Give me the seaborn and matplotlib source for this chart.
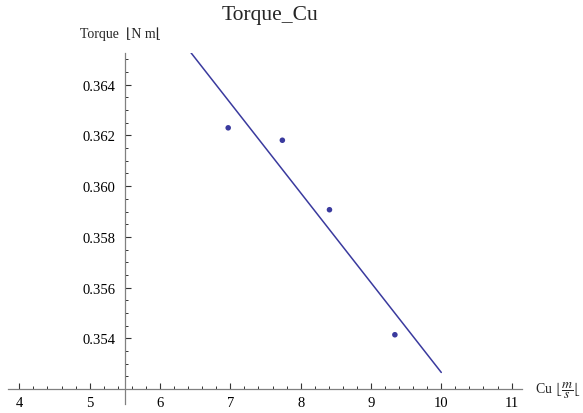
import matplotlib
matplotlib.use("Agg")
import matplotlib.pyplot as plt
import seaborn as sns
import numpy as np
import pandas as pd
from matplotlib.ticker import FixedLocator, FormatStrFormatter

# ---- data ----
cu = [6.97, 7.74, 8.41, 9.34]
torque = [0.36230, 0.36181, 0.35907, 0.35414]
x_ticks = [4, 5, 6, 7, 8, 9, 10, 11]
y_ticks = [0.354, 0.356, 0.358, 0.360, 0.362, 0.364]
fit_range = [4, 10]

title = "Torque_Cu"
y_label = "Torque  \u230aN m\u230a"
x_label = r"Cu $\lfloor\dfrac{m}{s}\lfloor$"

df = pd.DataFrame({"Cu": cu, "Torque": torque})

sns.set_style("white")
plt.rcParams["font.family"] = ["Liberation Serif", "DejaVu Serif"]
plt.rcParams["mathtext.fontset"] = "stix"

color = "#3a3a9e"
axis_col = "#808080"

fig = plt.figure(figsize=(5.83, 4.14), dpi=100)
ax = fig.add_axes([0.01372, 0.02174, 0.8811, 0.8478])

# fitted line over the fit range (regression of the points)
ax.set_xlim(*fit_range)
sns.regplot(data=df, x="Cu", y="Torque", ax=ax, scatter=False, ci=None,
            truncate=False, color=color, line_kws={"linewidth": 1.1})
sns.scatterplot(data=df, x="Cu", y="Torque", ax=ax, color=color, s=16,
                edgecolor="none", zorder=3)

ax.set_xlim(3.839, 11.143)
ax.set_ylim(0.351409, 0.36525)

for s in ["top", "right"]:
    ax.spines[s].set_visible(False)
ax.spines["left"].set_position(("data", 5.5))
ax.spines["bottom"].set_position(("data", 0.352))
for s in ["left", "bottom"]:
    ax.spines[s].set_color(axis_col)
    ax.spines[s].set_linewidth(0.9)

ax.xaxis.set_major_locator(FixedLocator(x_ticks))
ax.xaxis.set_minor_locator(FixedLocator(
    [round(4 + 0.2 * i, 1) for i in range(36) if (i % 5) != 0]))
ax.yaxis.set_major_locator(FixedLocator(y_ticks))
ax.yaxis.set_minor_locator(FixedLocator(
    [round(0.3525 + 0.0005 * i, 4) for i in range(26)
     if round(0.3525 + 0.0005 * i, 4) not in [round(v, 4) for v in y_ticks]]))
ax.yaxis.set_major_formatter(FormatStrFormatter("%.3f"))

ax.tick_params(axis="both", which="major", direction="in", length=4, width=0.8,
               color="#333333", labelsize=10.5, labelcolor="black")
ax.tick_params(axis="both", which="minor", direction="in", length=2.2, width=0.7,
               color="#333333")
ax.tick_params(axis="x", which="both", bottom=True, top=False, pad=5)
ax.tick_params(axis="y", which="both", left=True, right=False, pad=7)

ax.set_xlabel("")
ax.set_ylabel("")

fig.text(222 / 583, 1 - 20 / 414, title, fontsize=15.5, ha="left", va="baseline")
fig.text(80 / 583, 1 - 38 / 414, y_label, fontsize=10, ha="left", va="baseline")
fig.text(535 / 583, 1 - 391 / 414, x_label, fontsize=10, ha="left", va="center")

fig.savefig("out.png", dpi=100)
